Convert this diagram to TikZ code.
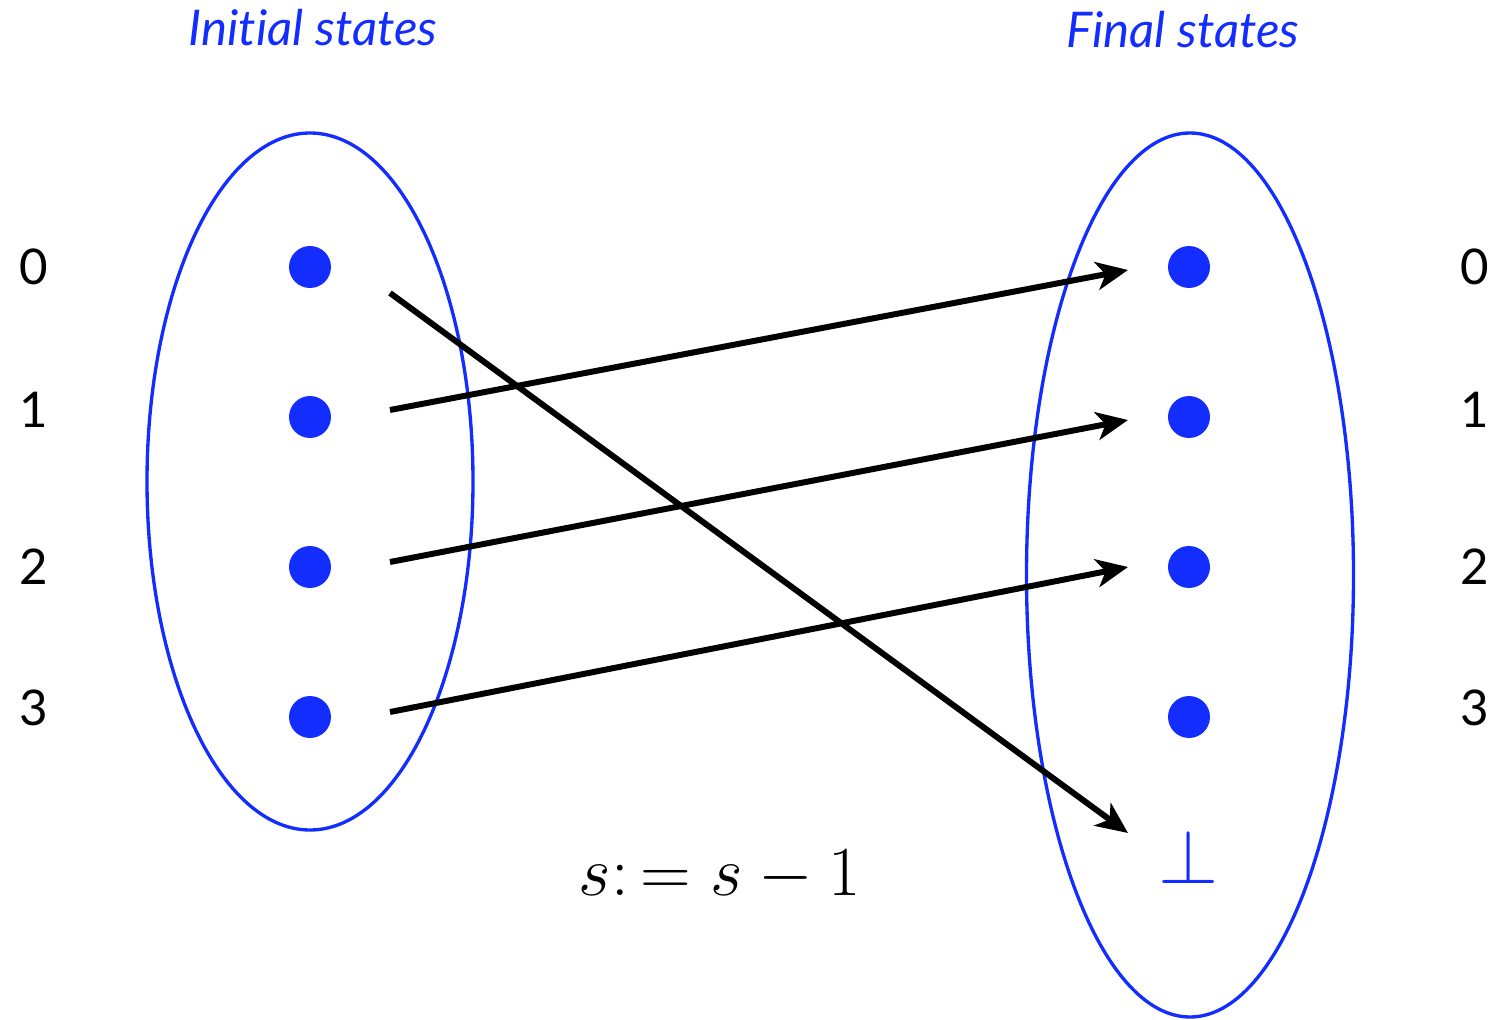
\RequirePackage{fix-cm}
\documentclass[tikz,border=0pt]{standalone}
\usepackage{fontspec}
\setmainfont[Ligatures=NoCommon]{Lato}
\usetikzlibrary{arrows.meta,calc}
\definecolor{stblue}{RGB}{20,45,255}
\begin{document}
\begin{tikzpicture}[x=0.02cm,y=-0.02cm,
  setell/.style={draw=stblue,line width=1.9pt},
  dot/.style={circle,fill=stblue,inner sep=0pt,minimum size=0.84cm},
  num/.style={font=\fontsize{28}{33}\selectfont},
  ttl/.style={text=stblue,font=\fontsize{28}{33}\selectfont\itshape},
  arr/.style={line width=3.4pt,-{Stealth[length=18pt,width=16pt,inset=5pt]}}]
\useasboundingbox (0,0) rectangle (1497,1020);
% titles
\node[ttl] (ti) at (313,28) {Initial states};
\node[ttl] (tf) at (1183,30) {Final states};
% ellipses
\draw[setell] (310,481.5) ellipse [x radius=163, y radius=348.5];
\draw[setell] (1190,575) ellipse [x radius=163.5, y radius=442];
% dots
\foreach \i/\y in {0/267,1/417,2/567,3/717}{
  \node[dot] (l\i) at (310,\y) {};
  \node[dot] (r\i) at (1189,\y) {};
}
\node[text=stblue,font=\fontsize{44}{52}\selectfont,inner sep=0pt] (rb) at (1189,857) {$\perp$};
% numbers
\node[num] (nl0) at (34,267) {0};
\node[num] (nl1) at (34,410) {1};
\node[num] (nl2) at (34,567) {2};
\node[num] (nl3) at (34,708) {3};
\node[num] (nr0) at (1475,267) {0};
\node[num] (nr1) at (1475,410) {1};
\node[num] (nr2) at (1475,567) {2};
\node[num] (nr3) at (1475,708) {3};
% arrows
\draw[arr] ($(l0)+(80,26)$) -- ($(rb)+(-61,-24)$);
\draw[arr] ($(l1)+(80,-7)$) -- ($(r0)+(-61,3)$);
\draw[arr] ($(l2)+(80,-5)$) -- ($(r1)+(-61,3)$);
\draw[arr] ($(l3)+(80,-5)$) -- ($(r2)+(-61,0)$);
% label
\node[font=\fontsize{40}{48}\selectfont] (lbl) at (720,876) {$s\colon = s - 1$};
\end{tikzpicture}
\end{document}
